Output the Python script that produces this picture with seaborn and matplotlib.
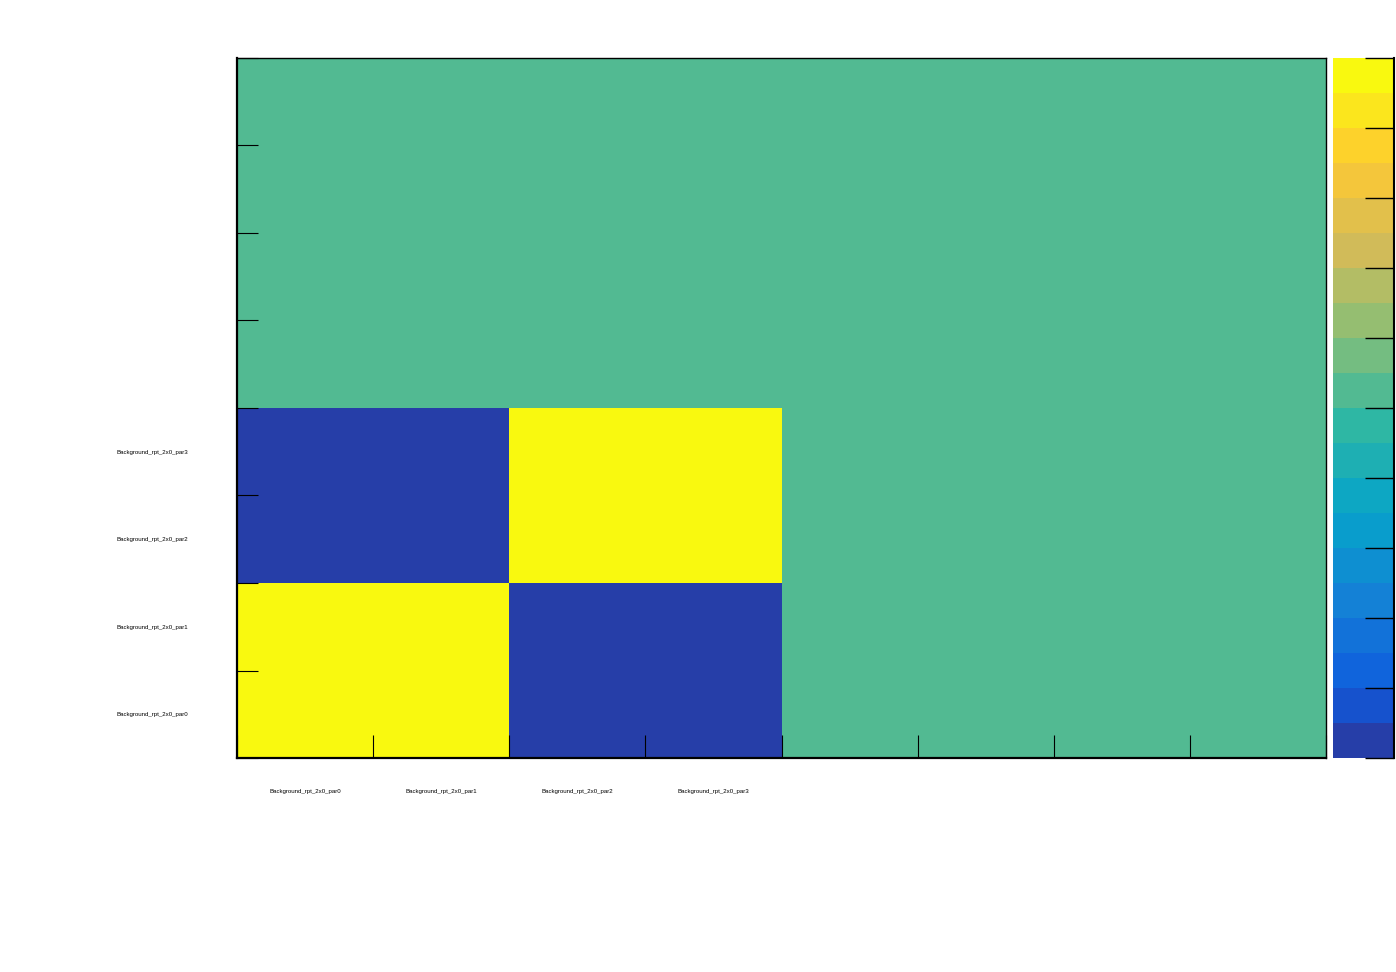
import numpy as np
import matplotlib
matplotlib.use("Agg")
import matplotlib.pyplot as plt
from matplotlib.colors import ListedColormap
import seaborn as sns

# ---- data ----
params = ["Background_rpt_2x0_par0", "Background_rpt_2x0_par1",
          "Background_rpt_2x0_par2", "Background_rpt_2x0_par3"]
n_bins = 8
corr = [[1, 1, -1, -1],
        [1, 1, -1, -1],
        [-1, -1, 1, 1],
        [-1, -1, 1, 1]]

# full histogram (empty bins are 0)
full = np.zeros((n_bins, n_bins))
full[:len(params), :len(params)] = np.array(corr, dtype=float)

# ---- ROOT kBird palette, 20 contour levels ----
stops_r = [0.2082, 0.0592, 0.0780, 0.0232, 0.1802, 0.5301, 0.8186, 0.9956, 0.9764]
stops_g = [0.1664, 0.3599, 0.5041, 0.6419, 0.7178, 0.7492, 0.7328, 0.7862, 0.9832]
stops_b = [0.5293, 0.8684, 0.8385, 0.7914, 0.6425, 0.4662, 0.3499, 0.1968, 0.0539]
ncol = 255
nst = len(stops_r)
pal = []
for g in range(1, nst):
    n = int(np.floor(ncol * g / (nst - 1)) - np.floor(ncol * (g - 1) / (nst - 1)))
    for c in range(n):
        f = c / n
        pal.append((stops_r[g-1] + f*(stops_r[g]-stops_r[g-1]),
                    stops_g[g-1] + f*(stops_g[g]-stops_g[g-1]),
                    stops_b[g-1] + f*(stops_b[g]-stops_b[g-1])))
ndiv = 20
levels = [pal[min(int((k + 0.99) * ncol / ndiv), len(pal) - 1)] for k in range(ndiv)]
cmap = ListedColormap(levels)

# ---- figure ----
W, H = 1396, 972
fig = plt.figure(figsize=(W/100, H/100), dpi=100)
ax = fig.add_axes([237/W, (H-758)/H, (1326-237)/W, 700/H])
cax = fig.add_axes([1333/W, (H-758)/H, (1394-1333)/W, 700/H])

sns.heatmap(full, ax=ax, cmap=cmap, vmin=-1, vmax=1, cbar_ax=cax,
            xticklabels=False, yticklabels=False)
ax.invert_yaxis()

for s in ax.spines.values():
    s.set_visible(True)
    s.set_color("black")
ax.spines["left"].set_linewidth(1.6)
ax.spines["bottom"].set_linewidth(1.6)
ax.spines["top"].set_linewidth(1.0)
ax.spines["right"].set_linewidth(1.0)

edges = np.arange(n_bins + 1)
centers = np.arange(len(params)) + 0.5
ax.set_xticks(edges)
ax.set_yticks(edges)
ax.set_xticklabels([])
ax.set_yticklabels([])
ax.tick_params(axis="x", which="major", direction="in", length=23*0.72, width=0.8,
               bottom=True, top=False, color="black")
ax.tick_params(axis="y", which="major", direction="in", length=21*0.72, width=0.8,
               left=True, right=False, color="black")
ax.set_xticks(centers, minor=True)
ax.set_yticks(centers, minor=True)
lab_font = dict(family=["Liberation Sans", "DejaVu Sans"], size=4.4)
ax.set_xticklabels(params, minor=True, fontdict=lab_font)
ax.set_yticklabels(params, minor=True, fontdict=lab_font, rotation=0)
ax.tick_params(axis="x", which="minor", length=0, pad=22.5)
ax.tick_params(axis="y", which="minor", length=0, pad=35)
ax.set_xlabel("")
ax.set_ylabel("")

# colorbar styling
cbar = ax.collections[0].colorbar
cbar.outline.set_visible(False)
cbar.set_ticks(np.linspace(-1, 1, 11))
cax.tick_params(axis="y", direction="in", length=29*0.72, width=1.0, right=True,
                left=False, labelright=False, labelleft=False, color="black")
cax.plot([1, 1], [0, 1], transform=cax.transAxes, color="black", lw=1.5, clip_on=False)

fig.savefig("out.png", dpi=100)
